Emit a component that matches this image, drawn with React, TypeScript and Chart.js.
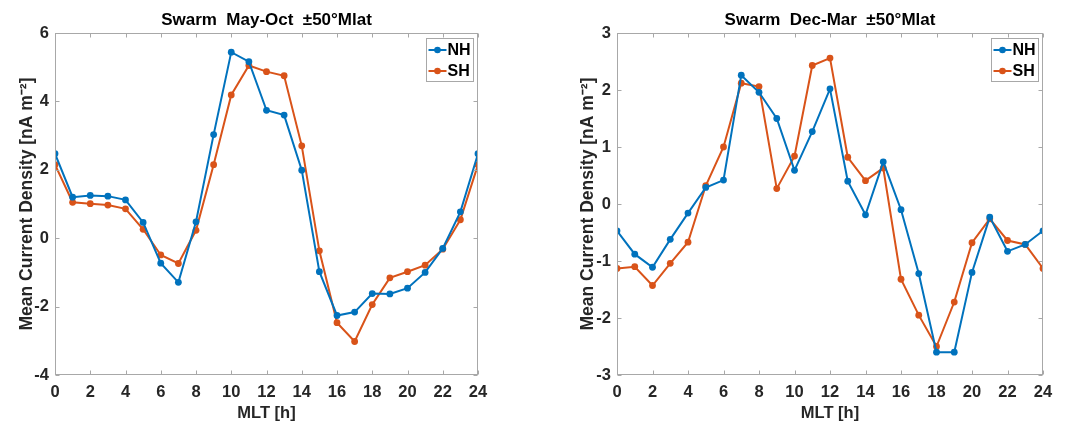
import React, { useEffect, useRef } from "react";
import { Chart, registerables } from "chart.js";

Chart.register(...registerables);

// ---------- data ----------
const mltHours = [0, 1, 2, 3, 4, 5, 6, 7, 8, 9, 10, 11, 12, 13, 14, 15, 16, 17, 18, 19, 20, 21, 22, 23, 24];
const seriesNames = ["NH", "SH"];

const mayOctNH = [2.47, 1.2, 1.25, 1.23, 1.12, 0.46, -0.73, -1.29, 0.48, 3.03, 5.44, 5.16, 3.74, 3.6, 1.99, -0.98, -2.26, -2.16, -1.62, -1.63, -1.46, -1.0, -0.3, 0.77, 2.47];
const mayOctSH = [2.15, 1.05, 1.01, 0.97, 0.86, 0.26, -0.49, -0.74, 0.23, 2.15, 4.19, 5.05, 4.87, 4.75, 2.7, -0.37, -2.47, -3.02, -1.94, -1.16, -0.98, -0.79, -0.32, 0.54, 2.15];

const decMarNH = [-0.47, -0.88, -1.11, -0.62, -0.16, 0.29, 0.42, 2.26, 1.96, 1.5, 0.59, 1.27, 2.02, 0.4, -0.19, 0.74, -0.1, -1.22, -2.6, -2.6, -1.2, -0.23, -0.83, -0.71, -0.47];
const decMarSH = [-1.13, -1.1, -1.43, -1.04, -0.67, 0.32, 1.0, 2.12, 2.06, 0.27, 0.84, 2.43, 2.56, 0.82, 0.41, 0.63, -1.32, -1.95, -2.5, -1.72, -0.68, -0.26, -0.64, -0.71, -1.13];

const xTickValues = [0, 2, 4, 6, 8, 10, 12, 14, 16, 18, 20, 22, 24];
const mayOctYTicks = [-4, -2, 0, 2, 4, 6];
const decMarYTicks = [-3, -2, -1, 0, 1, 2, 3];

const mayOctTitle = "Swarm  May-Oct  \u00B150\u00B0Mlat";
const decMarTitle = "Swarm  Dec-Mar  \u00B150\u00B0Mlat";
const xAxisTitle = "MLT [h]";
const yAxisTitle = "Mean Current Density [nA m\u207B\u00B2]";

// ---------- style ----------
const FONT = "'Liberation Sans', Arial, Helvetica, sans-serif";
const BLUE = "#0072BD";
const ORANGE = "#D95319";
const FRAME = "#a8a8a8";
const TEXT = "#262626";
const CANVAS_H = 426;

const frameAndLegend = {
  id: "frameAndLegend",
  afterDraw(chart: any) {
    const { ctx, chartArea } = chart;
    const { left, right, top, bottom } = chartArea;
    const xs = chart.scales.x;
    const ys = chart.scales.y;
    ctx.save();
    ctx.strokeStyle = FRAME;
    ctx.lineWidth = 1;
    const L = Math.round(left) + 0.5;
    const R = Math.round(right) - 0.5;
    const T = Math.round(top) + 0.5;
    const B = Math.round(bottom) - 0.5;
    ctx.strokeRect(L, T, R - L, B - T);
    const tl = 4;
    ctx.beginPath();
    xs.ticks.forEach((t: any) => {
      const px = Math.round(xs.getPixelForValue(t.value)) + 0.5;
      ctx.moveTo(px, B);
      ctx.lineTo(px, B - tl);
      ctx.moveTo(px, T);
      ctx.lineTo(px, T + tl);
    });
    ys.ticks.forEach((t: any) => {
      const py = Math.round(ys.getPixelForValue(t.value)) + 0.5;
      ctx.moveTo(L, py);
      ctx.lineTo(L + tl, py);
      ctx.moveTo(R, py);
      ctx.lineTo(R - tl, py);
    });
    ctx.stroke();

    // legend
    const bw = 47;
    const bh = 43;
    const bx = Math.round(right) - 5 - bw + 0.5;
    const by = Math.round(top) + 5 + 0.5;
    ctx.fillStyle = "#ffffff";
    ctx.fillRect(bx, by, bw, bh);
    ctx.strokeStyle = FRAME;
    ctx.lineWidth = 1;
    ctx.strokeRect(bx, by, bw, bh);
    chart.data.datasets.forEach((ds: any, i: number) => {
      const cy = Math.round(top) + 17 + i * 21;
      ctx.strokeStyle = ds.borderColor;
      ctx.lineWidth = 2;
      ctx.beginPath();
      ctx.moveTo(bx + 2, cy);
      ctx.lineTo(bx + 20, cy);
      ctx.stroke();
      ctx.fillStyle = ds.borderColor;
      ctx.beginPath();
      ctx.arc(bx + 11, cy, 3.3, 0, Math.PI * 2);
      ctx.fill();
      ctx.fillStyle = "#000000";
      ctx.font = `bold 16px ${FONT}`;
      ctx.textAlign = "left";
      ctx.textBaseline = "middle";
      ctx.fillText(ds.label, bx + 21, cy + 1);
    });
    ctx.restore();
  },
};

type PanelProps = {
  pageLeft: number;
  width: number;
  areaLeft: number;
  areaRight: number;
  yTitleCenter: number;
  title: string;
  nh: number[];
  sh: number[];
  yTicks: number[];
};

function Panel(p: PanelProps) {
  const ref = useRef<HTMLCanvasElement | null>(null);
  useEffect(() => {
    if (!ref.current) return;
    const yMin = p.yTicks[0];
    const yMax = p.yTicks[p.yTicks.length - 1];
    const mk = (vals: number[]) => mltHours.map((x, i) => ({ x, y: vals[i] }));
    const chart = new Chart(ref.current, {
      type: "line",
      data: {
        datasets: [
          {
            label: seriesNames[0],
            data: mk(p.nh),
            borderColor: BLUE,
            backgroundColor: BLUE,
            borderWidth: 2,
            pointRadius: 3.4,
            pointBorderWidth: 0,
            pointBackgroundColor: BLUE,
            tension: 0,
          },
          {
            label: seriesNames[1],
            data: mk(p.sh),
            borderColor: ORANGE,
            backgroundColor: ORANGE,
            borderWidth: 2,
            pointRadius: 3.4,
            pointBorderWidth: 0,
            pointBackgroundColor: ORANGE,
            tension: 0,
          },
        ],
      },
      options: {
        responsive: false,
        animation: false,
        layout: { padding: { left: 0, right: p.width - p.areaRight, top: 0, bottom: 0 } },
        plugins: {
          legend: { display: false },
          tooltip: { enabled: false },
          title: {
            display: true,
            text: p.title,
            fullSize: false,
            color: "#000000",
            font: { family: FONT, size: 17, weight: "bold", lineHeight: 1.2 },
            padding: { top: 10.5, bottom: 2.1 },
          },
        },
        scales: {
          x: {
            type: "linear",
            min: 0,
            max: 24,
            afterBuildTicks: (s: any) => {
              s.ticks = xTickValues.map((v) => ({ value: v }));
            },
            afterFit: (s: any) => {
              s.height = CANVAS_H - 375;
            },
            grid: { display: false, drawTicks: false },
            border: { display: false },
            ticks: {
              autoSkip: false,
              maxRotation: 0,
              padding: 8,
              color: TEXT,
              font: { family: FONT, size: 16.5, weight: "bold" },
            },
            title: {
              display: true,
              text: xAxisTitle,
              color: TEXT,
              font: { family: FONT, size: 16.5, weight: "bold", lineHeight: 1.2 },
              padding: { top: 0, bottom: 3 },
            },
          },
          y: {
            type: "linear",
            min: yMin,
            max: yMax,
            afterBuildTicks: (s: any) => {
              s.ticks = p.yTicks.map((v) => ({ value: v }));
            },
            afterFit: (s: any) => {
              s.width = p.areaLeft;
            },
            grid: { display: false, drawTicks: false },
            border: { display: false },
            ticks: {
              autoSkip: false,
              padding: 6,
              color: TEXT,
              font: { family: FONT, size: 16.5, weight: "bold" },
            },
            title: {
              display: true,
              text: yAxisTitle,
              color: TEXT,
              font: { family: FONT, size: 17.5, weight: "bold", lineHeight: 1.2 },
              padding: { top: p.yTitleCenter - 10.5, bottom: 0 },
            },
          },
        },
      },
      plugins: [frameAndLegend],
    } as any);
    return () => chart.destroy();
  }, []);
  return (
    <canvas
      ref={ref}
      width={p.width}
      height={CANVAS_H}
      style={{ position: "absolute", left: p.pageLeft, top: 0, width: p.width, height: CANVAS_H }}
    />
  );
}

export default function App() {
  return (
    <div style={{ position: "absolute", left: 0, top: 0, width: 1077, height: CANVAS_H, background: "#ffffff", overflow: "hidden" }}>
      <Panel pageLeft={0} width={540} areaLeft={55} areaRight={478} yTitleCenter={27} title={mayOctTitle} nh={mayOctNH} sh={mayOctSH} yTicks={mayOctYTicks} />
      <Panel pageLeft={540} width={537} areaLeft={77} areaRight={503} yTitleCenter={48} title={decMarTitle} nh={decMarNH} sh={decMarSH} yTicks={decMarYTicks} />
    </div>
  );
}
